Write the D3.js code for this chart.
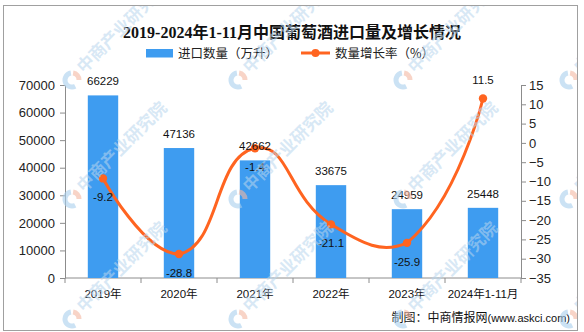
<!DOCTYPE html>
<html>
<head>
<meta charset="utf-8">
<script src="https://cdn.jsdelivr.net/npm/d3@7"></script>
<style>
  body { margin: 0; background: #fff; }
  svg { display: block; }
</style>
</head>
<body>
<svg id="chart" width="584" height="332"></svg>
<script>
// Wine imports into China, 2019 – Jan-Nov 2024
const categories = ["2019年", "2020年", "2021年", "2022年", "2023年", "2024年1-11月"];
const importVolume = [66229, 47136, 42662, 33675, 24959, 25448];   // 万升
const growthRate = [-9.2, -28.8, -1.4, -21.1, -25.9, 11.5];        // %
const leftTicks = [0, 10000, 20000, 30000, 40000, 50000, 60000, 70000];
const rightTicks = [-35, -30, -25, -20, -15, -10, -5, 0, 5, 10, 15];
const titleText = "2019-2024年1-11月中国葡萄酒进口量及增长情况";
const seriesNames = ["进口数量（万升）", "数量增长率（%）"];
const sourceText = ["制图：中商情报网", "(www.askci.com)"];
const watermarkText = "中商产业研究院";

const W = 584, H = 332;
const plot = { left: 65, right: 521, top: 85, bottom: 278 };
const barColor = "#3e9cf0";
const lineColor = "#ff6420";
const axisColor = "#8c8c8c";
const sansFont = "'Liberation Sans', 'Noto Sans CJK SC', sans-serif";
const cjkFont = "'Noto Sans CJK SC', 'Liberation Sans', sans-serif";

const svg = d3.select("#chart");

svg.append("defs").append("clipPath").attr("id", "frame-clip")
  .append("rect").attr("x", 4).attr("y", 6).attr("width", 573).attr("height", 324);

svg.append("rect").attr("width", W).attr("height", H).attr("fill", "#fff");
svg.append("rect")
  .attr("x", 3.5).attr("y", 5.5).attr("width", 574).attr("height", 325)
  .attr("fill", "none").attr("stroke", "#a0a0a0").attr("stroke-width", 1);

// Scales
const x = d3.scaleBand().domain(categories).range([plot.left, plot.right]).padding(0);
const yL = d3.scaleLinear().domain([0, 70000]).range([plot.bottom, plot.top]);
const yR = d3.scaleLinear().domain([-35, 15]).range([plot.bottom, plot.top]);
const barW = x.bandwidth() * 0.4;
const cx = d => x(d) + x.bandwidth() / 2;

// Title
svg.append("text")
  .attr("x", 292).attr("y", 37.5)
  .attr("text-anchor", "middle")
  .attr("font-family", "'Liberation Serif', 'Noto Sans CJK SC', serif")
  .attr("font-weight", "bold").attr("font-size", 16)
  .attr("fill", "#111")
  .text(titleText);

// Legend
const legend = svg.append("g").attr("font-family", cjkFont).attr("font-size", 12.5).attr("fill", "#222");
legend.append("rect").attr("x", 146).attr("y", 49).attr("width", 27).attr("height", 8.5).attr("fill", barColor);
legend.append("text").attr("x", 178).attr("y", 57.5).text(seriesNames[0]);
legend.append("line").attr("x1", 301).attr("x2", 330).attr("y1", 53).attr("y2", 53)
  .attr("stroke", lineColor).attr("stroke-width", 3);
legend.append("circle").attr("cx", 315.5).attr("cy", 53).attr("r", 4).attr("fill", lineColor);
legend.append("text").attr("x", 335).attr("y", 57.5).text(seriesNames[1]);

// Axes
function styleAxis(g) {
  g.select(".domain").attr("stroke", axisColor);
  g.selectAll(".tick line").attr("stroke", axisColor);
  g.selectAll(".tick text").attr("fill", "#222").attr("font-family", sansFont).attr("font-size", 13);
}

svg.append("g")
  .attr("transform", `translate(${plot.left},0)`)
  .call(d3.axisLeft(yL).tickValues(leftTicks).tickSize(5).tickSizeOuter(0).tickPadding(5).tickFormat(d3.format("d")))
  .call(styleAxis);

svg.append("g")
  .attr("transform", `translate(${plot.right},0)`)
  .call(d3.axisRight(yR).tickValues(rightTicks).tickSize(5).tickSizeOuter(0).tickPadding(3))
  .call(styleAxis);

// Category axis with ticks on band boundaries
const xAxis = svg.append("g").attr("transform", `translate(0,${plot.bottom})`);
xAxis.append("line").attr("x1", plot.left).attr("x2", plot.right).attr("stroke", axisColor);
const boundaries = categories.map(c => x(c)).concat([plot.right]);
xAxis.selectAll("line.tk").data(boundaries).join("line")
  .attr("class", "tk").attr("x1", d => d).attr("x2", d => d).attr("y1", 0).attr("y2", 5)
  .attr("stroke", axisColor);
xAxis.selectAll("text").data(categories).join("text")
  .attr("x", d => cx(d)).attr("y", 20)
  .attr("text-anchor", "middle")
  .attr("font-family", sansFont).attr("font-size", 11.5).attr("fill", "#111")
  .text(d => d);

// Bars
svg.append("g").selectAll("rect").data(categories).join("rect")
  .attr("x", d => cx(d) - barW / 2)
  .attr("width", barW)
  .attr("y", (d, i) => yL(importVolume[i]))
  .attr("height", (d, i) => plot.bottom - yL(importVolume[i]))
  .attr("fill", barColor);

// Smoothed line (bezier control points from neighbouring points)
const pts = categories.map((c, i) => [cx(c), yR(growthRate[i])]);
function smoothPath(points, smooth) {
  const minX = d3.min(points, p => p[0]), maxX = d3.max(points, p => p[0]);
  const minY = d3.min(points, p => p[1]), maxY = d3.max(points, p => p[1]);
  const clamp = p => [Math.max(minX, Math.min(maxX, p[0])), Math.max(minY, Math.min(maxY, p[1]))];
  const path = d3.path();
  path.moveTo(points[0][0], points[0][1]);
  let cp0 = points[0];
  for (let i = 1; i < points.length; i++) {
    const cur = points[i];
    let cp1 = cur, nextCp0 = cur;
    if (i < points.length - 1) {
      const prev = points[i - 1], next = points[i + 1];
      const vx = next[0] - prev[0], vy = next[1] - prev[1];
      const d0 = Math.hypot(cur[0] - prev[0], cur[1] - prev[1]);
      const d1 = Math.hypot(next[0] - cur[0], next[1] - cur[1]);
      const r = d1 / (d0 + d1);
      cp1 = [cur[0] - vx * smooth * (1 - r), cur[1] - vy * smooth * (1 - r)];
      nextCp0 = [cur[0] + vx * smooth * r, cur[1] + vy * smooth * r];
    }
    const a = clamp(cp0), b = clamp(cp1);
    path.bezierCurveTo(a[0], a[1], b[0], b[1], cur[0], cur[1]);
    cp0 = nextCp0;
  }
  return path.toString();
}
svg.append("path")
  .attr("d", smoothPath(pts, 0.5))
  .attr("fill", "none").attr("stroke", lineColor).attr("stroke-width", 3)
  .attr("stroke-linejoin", "round").attr("stroke-linecap", "round");
svg.append("g").selectAll("circle").data(pts).join("circle")
  .attr("cx", d => d[0]).attr("cy", d => d[1]).attr("r", 4.2).attr("fill", lineColor);

// Value labels
const labels = svg.append("g").attr("font-family", sansFont).attr("font-size", 11.5).attr("fill", "#111")
  .attr("text-anchor", "middle");
labels.selectAll("text.bar").data(categories).join("text")
  .attr("class", "bar")
  .attr("x", d => cx(d))
  .attr("y", (d, i) => yL(importVolume[i]) - 10)
  .text((d, i) => importVolume[i]);
labels.selectAll("text.rate").data(categories).join("text")
  .attr("class", "rate")
  .attr("x", d => cx(d))
  .attr("y", (d, i) => yR(growthRate[i]) + (growthRate[i] > 0 ? -15 : 23))
  .text((d, i) => growthRate[i].toFixed(1));

// Source line
const src = svg.append("text")
  .attr("x", 570).attr("y", 321.5).attr("text-anchor", "end").attr("fill", "#111");
src.append("tspan").attr("font-family", cjkFont).attr("font-size", 12).text(sourceText[0]);
src.append("tspan").attr("font-family", sansFont).attr("font-size", 11).text(sourceText[1]);

// Tiled brand watermark, kept inside the frame
const wmX = [-94, 72, 238, 403, 569];
const wmY = [80, 199, 319];
const wm = svg.append("g").attr("pointer-events", "none").attr("clip-path", "url(#frame-clip)");
const ring = d3.arc().innerRadius(4.5).outerRadius(9.5);
wmY.forEach(yy => wmX.forEach(xx => {
  const g = wm.append("g").attr("transform", `translate(${xx},${yy})`);
  g.append("path").attr("d", ring({ startAngle: Math.PI * 0.85, endAngle: Math.PI * 1.95 }))
    .attr("fill", "#a9cfec").attr("opacity", 0.6);
  g.append("path").attr("d", ring({ startAngle: Math.PI * 0.05, endAngle: Math.PI * 0.5 }))
    .attr("fill", "#f3b7a2").attr("opacity", 0.6);
  g.append("text")
    .attr("transform", "translate(12,-6) rotate(-45)")
    .attr("font-family", cjkFont).attr("font-weight", "bold").attr("font-size", 17)
    .attr("fill", "#b9d6ee").attr("opacity", 0.55)
    .text(watermarkText);
}));
</script>
</body>
</html>
